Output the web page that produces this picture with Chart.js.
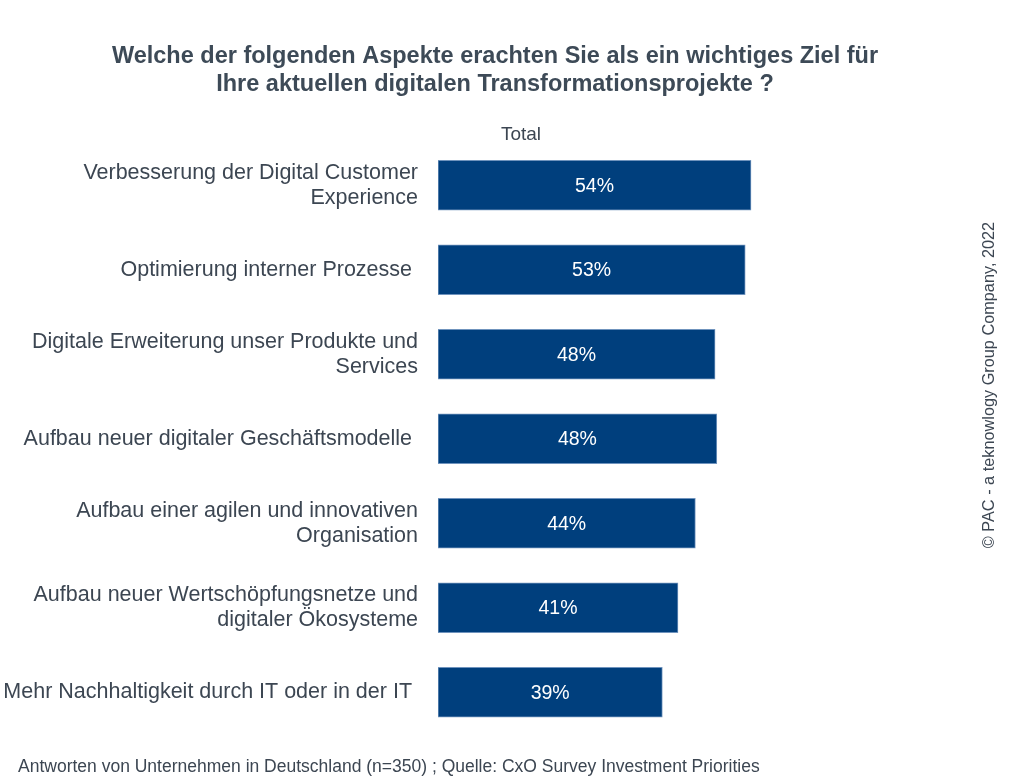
<!DOCTYPE html>
<html>
<head>
<meta charset="utf-8">
<script src="https://cdn.jsdelivr.net/npm/chart.js@4.4.1/dist/chart.umd.min.js"></script>
<style>
  html, body { margin: 0; padding: 0; background: #ffffff; }
  #wrap { position: relative; width: 1024px; height: 780px; }
</style>
</head>
<body>
<div id="wrap"><canvas id="c" width="1024" height="780"></canvas></div>
<script>
const titleLines = [
  "Welche der folgenden Aspekte erachten Sie als ein wichtiges Ziel für",
  "Ihre aktuellen digitalen Transformationsprojekte ?"
];
const seriesName = "Total";
const categories = [
  ["Verbesserung der Digital Customer", "Experience"],
  "Optimierung interner Prozesse ",
  ["Digitale Erweiterung unser Produkte und", "Services"],
  "Aufbau neuer digitaler Geschäftsmodelle ",
  ["Aufbau einer agilen und innovativen", "Organisation"],
  ["Aufbau neuer Wertschöpfungsnetze und", "digitaler Ökosysteme"],
  "Mehr Nachhaltigkeit durch IT oder in der IT "
];
const values = [54.0, 53.0, 47.8, 48.1, 44.4, 41.4, 38.7];
const valueLabels = ["54%", "53%", "48%", "48%", "44%", "41%", "39%"];
const footnote = "Antworten von Unternehmen in Deutschland (n=350) ; Quelle: CxO Survey Investment Priorities";
const copyright = "© PAC - a teknowlogy Group Company, 2022";

const FONT = "'Liberation Sans', Arial, Helvetica, sans-serif";
const TEXT = "#3c4652";

const textPlugin = {
  id: "texts",
  afterDatasetsDraw(chart) {
    const ctx = chart.ctx;
    const meta = chart.getDatasetMeta(0);
    ctx.save();
    ctx.fillStyle = "#ffffff";
    ctx.font = "19.5px " + FONT;
    ctx.textAlign = "center";
    ctx.textBaseline = "middle";
    meta.data.forEach((bar, i) => {
      const cx = (bar.x + bar.base) / 2;
      ctx.fillText(valueLabels[i], cx, bar.y + 1);
    });
    ctx.restore();
  },
  afterDraw(chart) {
    const ctx = chart.ctx;
    ctx.save();
    ctx.fillStyle = "#3d4a57";
    ctx.font = "bold 23.5px " + FONT;
    ctx.textAlign = "center";
    ctx.textBaseline = "middle";
    ctx.fillText(titleLines[0], 495, 57);
    ctx.fillText(titleLines[1], 495, 85);

    ctx.fillStyle = TEXT;
    ctx.font = "19px " + FONT;
    ctx.fillText(seriesName, 521, 135);

    ctx.font = "17.5px " + FONT;
    ctx.textAlign = "left";
    ctx.fillText(footnote, 18, 767);

    ctx.translate(990, 385);
    ctx.rotate(-Math.PI / 2);
    ctx.textAlign = "center";
    ctx.font = "16.3px " + FONT;
    ctx.fillText(copyright, 0, 0);
    ctx.restore();
  }
};

new Chart(document.getElementById("c"), {
  type: "bar",
  data: {
    labels: categories,
    datasets: [{
      label: seriesName,
      data: values,
      backgroundColor: "#003f7d",
      borderColor: "#6f93bd",
      borderWidth: 1,
      borderSkipped: false,
      barThickness: 50
    }]
  },
  options: {
    indexAxis: "y",
    responsive: false,
    animation: false,
    events: [],
    layout: { padding: { top: 143, bottom: 45.5, left: 0, right: 238.2 } },
    plugins: {
      legend: { display: false },
      title: { display: false },
      tooltip: { enabled: false }
    },
    scales: {
      x: {
        min: 0,
        max: 60,
        display: false
      },
      y: {
        grid: { display: false, drawTicks: false },
        border: { display: false },
        afterFit(scale) { scale.width = 438; },
        ticks: {
          color: TEXT,
          padding: 20,
          font: { family: FONT, size: 21.5, lineHeight: 1.16 }
        }
      }
    }
  },
  plugins: [textPlugin]
});
</script>
</body>
</html>
